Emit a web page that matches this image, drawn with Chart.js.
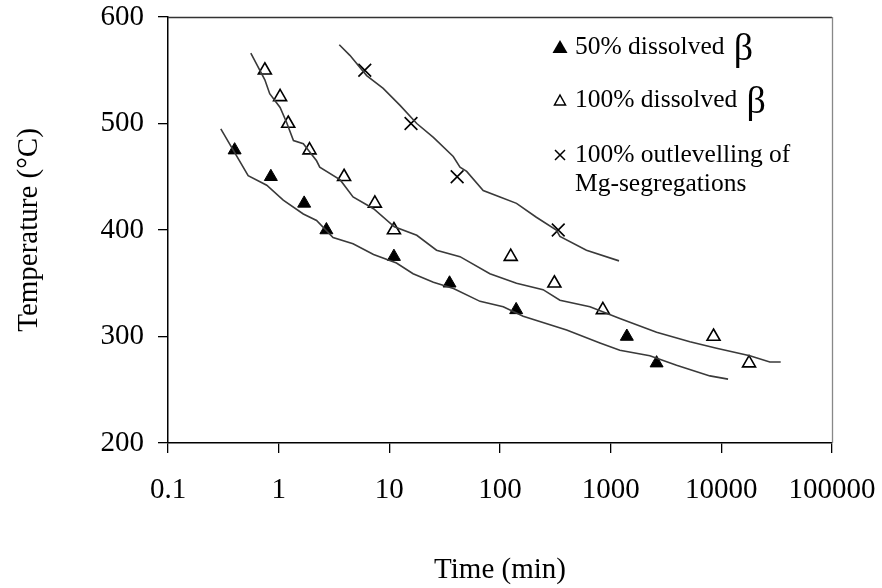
<!DOCTYPE html>
<html>
<head>
<meta charset="utf-8">
<script src="https://cdn.jsdelivr.net/npm/chart.js@4.4.1/dist/chart.umd.min.js"></script>
<style>
  body { margin: 0; background: #fff; }
  #wrap { width: 882px; height: 588px; }
</style>
</head>
<body>
<div id="wrap"><canvas id="mycanvas" width="882" height="588"></canvas></div>
<script>
// measured points
var half_t = [0.4, 0.85, 1.7, 2.7, 11, 35, 140, 1400, 2600];
var half_T = [475, 450, 425, 400, 375, 350, 325, 300, 275];
var full_t = [0.75, 1.03, 1.22, 1.9, 3.9, 7.4, 11, 125, 310, 850, 8500, 17800];
var full_T = [550, 525, 500, 475, 450, 425, 400, 375, 350, 325, 300, 275];
var mg_t = [6, 15.7, 41, 336];
var mg_T = [550, 500, 450, 400];

// hand drawn trend curves
var curve1_t = [0.30, 0.53, 0.78, 1.1, 1.67, 2.2, 3.1, 4.7, 7.2, 11.6, 16.4, 25, 38, 66, 107, 162, 400, 800, 1210, 2260, 3940, 7880, 11500];
var curve1_T = [495, 451, 442, 428, 415, 409, 393, 387, 377, 369, 359, 351, 345, 333, 328, 319, 306, 294, 287, 282, 273, 263, 260];
var curve2_t = [0.56, 0.63, 0.75, 0.83, 1.03, 1.18, 1.36, 1.67, 2.2, 2.35, 3.6, 4.7, 7.2, 11.1, 17.7, 26.7, 43.5, 81, 141, 245, 348, 650, 1210, 2600, 5200, 9060, 18100, 27400, 34400];
var curve2_T = [566, 556, 541, 528, 515, 501, 484, 481, 465, 459, 447, 431, 420, 403, 395, 381, 375, 359, 350, 344, 334, 328, 317, 304, 295, 289, 282, 276, 276];
var curve3_t = [3.53, 4.4, 6.24, 8.8, 12.5, 17.7, 25, 37.8, 43.5, 50, 70.5, 100, 141, 213, 323, 348, 604, 1190];
var curve3_T = [574, 564, 545, 533, 517, 500, 487, 469, 459, 455, 437, 431, 425, 412, 400, 394, 381, 371];

var xTicks = [0.1, 1, 10, 100, 1000, 10000, 100000];
var yTicks = [200, 300, 400, 500, 600];

var legendRows = [
  { marker: "filled", text: "50% dissolved ", beta: true },
  { marker: "open", text: "100% dissolved ", beta: true },
  { marker: "cross", text: "100% outlevelling of", beta: false },
  { marker: "none", text: "Mg-segregations", beta: false }
];

function pts(xs, ys) {
  var out = [];
  for (var i = 0; i < xs.length; i++) out.push({ x: xs[i], y: ys[i] });
  return out;
}

function curve(xs, ys) {
  return {
    data: pts(xs, ys), showLine: true, borderColor: "#3a3a3a", borderWidth: 1.6,
    pointRadius: 0, tension: 0, fill: false
  };
}

var serif = "'Liberation Serif', 'DejaVu Serif', serif";

// top/right frame and the legend inside the plot
var framePlugin = {
  id: "frame",
  afterDraw: function(chart) {
    var ctx = chart.ctx, a = chart.chartArea;
    ctx.save();
    ctx.lineWidth = 1.3;
    ctx.strokeStyle = "#333";
    ctx.beginPath();
    ctx.moveTo(a.left, a.top + 0.5);
    ctx.lineTo(a.right, a.top + 0.5);
    ctx.stroke();
    ctx.strokeStyle = "#888";
    ctx.beginPath();
    ctx.moveTo(a.right + 0.5, a.top);
    ctx.lineTo(a.right + 0.5, a.bottom);
    ctx.stroke();

    var rowY = [47, 100, 155, 184];
    var mx = 560, tx = 575;
    ctx.fillStyle = "#000";
    ctx.strokeStyle = "#000";
    ctx.textBaseline = "middle";
    for (var i = 0; i < legendRows.length; i++) {
      var r = legendRows[i], y = rowY[i];
      ctx.lineWidth = 1.5;
      if (r.marker == "filled") {
        ctx.beginPath();
        ctx.moveTo(mx, y - 7); ctx.lineTo(mx + 7.5, y + 6); ctx.lineTo(mx - 7.5, y + 6);
        ctx.closePath(); ctx.fill();
      } else if (r.marker == "open") {
        ctx.beginPath();
        ctx.moveTo(mx, y - 5); ctx.lineTo(mx + 5.5, y + 5); ctx.lineTo(mx - 5.5, y + 5);
        ctx.closePath(); ctx.stroke();
      } else if (r.marker == "cross") {
        ctx.beginPath();
        ctx.moveTo(mx - 5, y - 5); ctx.lineTo(mx + 5, y + 5);
        ctx.moveTo(mx + 5, y - 5); ctx.lineTo(mx - 5, y + 5);
        ctx.stroke();
      }
      ctx.font = "25.5px " + serif;
      ctx.textAlign = "left";
      ctx.fillText(r.text, tx, y);
      if (r.beta) {
        var w = ctx.measureText(r.text).width;
        ctx.font = "38px " + serif;
        ctx.fillText("\u03b2", tx + w + 3, y + 3);
      }
    }
    ctx.restore();
  }
};

var ctx = document.getElementById("mycanvas");
var chart = new Chart(ctx, {
  type: "scatter",
  data: {
    datasets: [
      curve(curve1_t, curve1_T),
      curve(curve2_t, curve2_T),
      curve(curve3_t, curve3_T),
      { data: pts(half_t, half_T), pointStyle: "triangle", pointRadius: 7.5,
        backgroundColor: "#000", borderColor: "#000", borderWidth: 1 },
      { data: pts(full_t, full_T), pointStyle: "triangle", pointRadius: 7.5,
        backgroundColor: "#fff", borderColor: "#000", borderWidth: 1.6 },
      { data: pts(mg_t, mg_T), pointStyle: "crossRot", pointRadius: 9,
        borderColor: "#000", borderWidth: 1.6 }
    ]
  },
  options: {
    responsive: false,
    animation: false,
    events: [],
    layout: { padding: { top: 17, right: 50, left: 0, bottom: 0 } },
    plugins: { legend: { display: false }, tooltip: { enabled: false } },
    scales: {
      x: {
        type: "logarithmic",
        min: 0.1, max: 100000,
        afterBuildTicks: function(axis) {
          axis.ticks = xTicks.map(function(v) { return { value: v }; });
        },
        afterFit: function(axis) {
          axis.height = 145;
          axis.paddingLeft = 0; axis.paddingRight = 0;
        },
        ticks: {
          color: "#000", padding: 20, maxRotation: 0, autoSkip: false,
          font: { family: serif, size: 29 },
          callback: function(v) { return String(v); }
        },
        grid: { drawOnChartArea: false, drawTicks: true, tickLength: 10, color: "#000", lineWidth: 1.3 },
        border: { display: true, color: "#000", width: 1.5 },
        title: {
          display: true, text: "Time (min)", color: "#000",
          font: { family: serif, size: 29 }, padding: { top: 0, bottom: 0 }
        }
      },
      y: {
        min: 200, max: 600,
        afterBuildTicks: function(axis) {
          axis.ticks = yTicks.map(function(v) { return { value: v }; });
        },
        afterFit: function(axis) {
          axis.width = 168;
          axis.paddingTop = 0; axis.paddingBottom = 0;
        },
        ticks: {
          color: "#000", padding: 14,
          font: { family: serif, size: 29 }
        },
        grid: { drawOnChartArea: false, drawTicks: true, tickLength: 10, color: "#000", lineWidth: 1.3 },
        border: { display: true, color: "#000", width: 1.5 },
        title: {
          display: true, text: "Temperature (\u00b0C)", color: "#000",
          font: { family: serif, size: 29 }, padding: { top: 12, bottom: 0 }
        }
      }
    }
  },
  plugins: [framePlugin]
});
</script>
</body>
</html>
